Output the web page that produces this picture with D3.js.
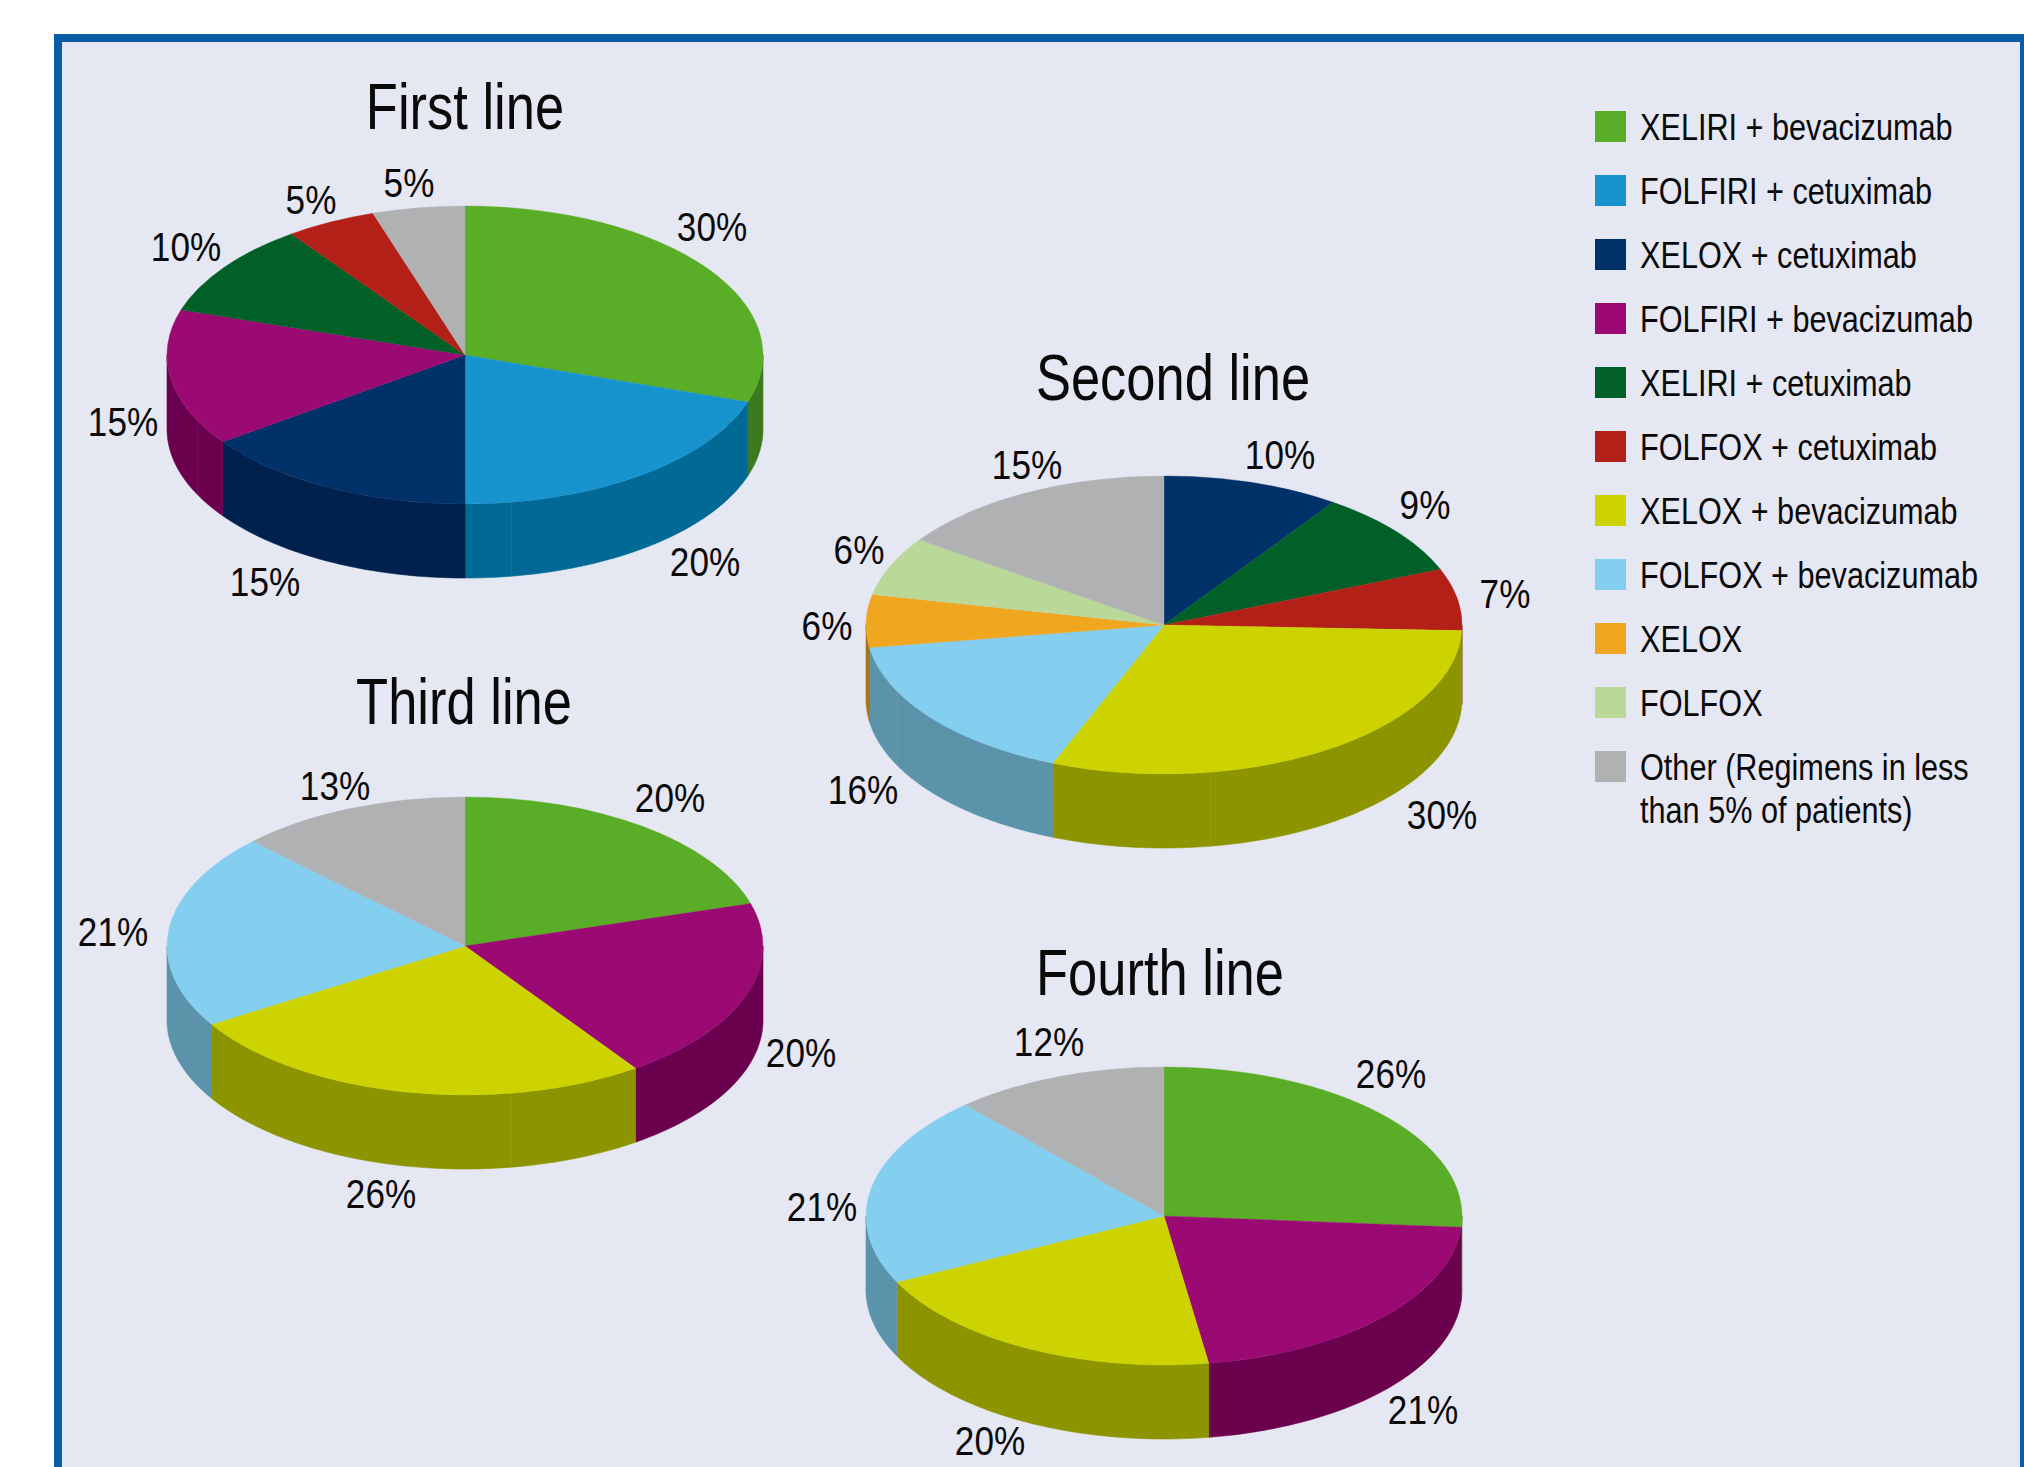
<!DOCTYPE html>
<html><head><meta charset="utf-8">
<style>
html,body{margin:0;padding:0;background:#fff}
svg{display:block}
text{font-family:"Liberation Sans",Arial,sans-serif;fill:#0a0a0a}
</style>
<script src="https://cdn.jsdelivr.net/npm/d3@7/dist/d3.min.js"></script>
</head><body><div id="chart"></div>
<script>
// ---- data (slice shares estimated from the slice edges; labels are the rounded shares) ----
const regimens = ["XELIRI + bevacizumab","FOLFIRI + cetuximab","XELOX + cetuximab","FOLFIRI + bevacizumab","XELIRI + cetuximab","FOLFOX + cetuximab","XELOX + bevacizumab","FOLFOX + bevacizumab","XELOX","FOLFOX","Other (Regimens in less|than 5% of patients)"];
const pieTitles = ["First line","Second line","Third line","Fourth line"];
const firstRegimens  = [0,1,2,3,4,5,10];
const firstValues    = [30.1,19.9,15.1,14.8,10.2,4.9,5.0];
const secondRegimens = [2,4,5,6,7,8,9,10];
const secondValues   = [9.6,9.3,6.7,30.49,16.49,5.7,6.4,15.32];
const thirdRegimens  = [0,3,6,7,10];
const thirdValues    = [20.4,19.9,25.9,21.2,12.6];
const fourthRegimens = [0,3,6,7,10];
const fourthValues   = [26.2,21.4,20.1,20.7,11.6];

// ---- colours ----
const topColours  = ["#5aad26","#1793ce","#003169","#9b0a73","#016028","#b32017","#cdd300","#84cef0","#f0a71f","#bad898","#b0b1b3"];
const wallColours = ["#3d7a1e","#006995","#00204d","#6b004e","#014019","#7a150f","#8c9400","#5a93aa","#a5751a","#809670","#7a7b7d"];

// ---- layout ----
const W=2024,H=1467, RX=298, RY=149, DEPTH=74;
const centres=[[465,355],[1164,625],[465,946],[1164,1216]];
const titleAnchors=[[465,129],[1173,400],[464,724],[1160,995]];
// label centres, as offsets from each pie's centre (hand placed in the source)
const labelOffsets=[
 [[247,-128],[240,207],[-200,227],[-342,67],[-279,-108],[-154,-155],[-56,-172]],
 [[116,-170],[261,-120],[341,-31],[278,190],[-301,165],[-337,1],[-305,-75],[-137,-160]],
 [[205,-148],[336,107],[-84,248],[-352,-14],[-130,-160]],
 [[227,-142],[259,194],[-174,225],[-342,-9],[-115,-174]]
];
const seamAngles=[171,243.6];
const SQUEEZE_LABEL=0.857, SQUEEZE_TITLE=0.82, SQUEEZE_LEGEND=0.84;

const svg=d3.select("#chart").append("svg").attr("width",W).attr("height",H);
svg.append("rect").attr("width",W).attr("height",H).attr("fill","#fff");
// frame: open at the bottom
svg.append("rect").attr("x",58).attr("y",38).attr("width",W-58-4+40).attr("height",H)
  .attr("fill","#e5e7f3").attr("stroke","#0a5ca6").attr("stroke-width",8);
svg.append("rect").attr("x",2020).attr("y",34).attr("width",4).attr("height",H).attr("fill","#0a5ca6");

const pies=[[firstRegimens,firstValues],[secondRegimens,secondValues],[thirdRegimens,thirdValues],[fourthRegimens,fourthValues]];
const pieGen=d3.pie().sort(null);

pies.forEach(([regs,vals],p)=>{
  const [cx,cy]=centres[p];
  const x=d3.scaleLinear().domain([-1,1]).range([cx-RX,cx+RX]);
  const y=d3.scaleLinear().domain([-1,1]).range([cy-RY,cy+RY]);
  const g=svg.append("g").attr("class","pie");
  const arcs=pieGen(vals);
  const wallG=g.append("g"), topG=g.append("g").attr("transform",`translate(${cx},${cy}) scale(1,${RY/RX})`);
  const line=d3.line().x(d=>x(Math.sin(d[0]))).y(d=>y(-Math.cos(d[0]))+d[1]);

  // side walls: only the front half of the rim shows
  arcs.forEach((a,i)=>{
    const a0=Math.max(a.startAngle,Math.PI/2), a1=Math.min(a.endAngle,Math.PI*1.5);
    if(a1<=a0) return;
    const ts=d3.range(0,49).map(k=>a0+(a1-a0)*k/48);
    const pts=ts.map(t=>[t,0]).concat(ts.slice().reverse().map(t=>[t,DEPTH]));
    wallG.append("path").attr("d",line(pts)+"Z").attr("fill",wallColours[regs[i]])
      .attr("stroke",wallColours[regs[i]]).attr("stroke-width",0.6);
  });
  // faint seams on the wall
  seamAngles.forEach(deg=>{
    const t=deg*Math.PI/180;
    wallG.append("path").attr("d",line([[t,0],[t,DEPTH]])).attr("stroke","#fff").attr("stroke-opacity",0.07).attr("stroke-width",1).attr("fill","none");
  });
  // top face
  const arc=d3.arc().innerRadius(0).outerRadius(RX);
  topG.selectAll("path").data(arcs).join("path").attr("d",arc)
    .attr("fill",(d,i)=>topColours[regs[i]]).attr("stroke",(d,i)=>topColours[regs[i]]).attr("stroke-width",0.5);

  // labels
  g.selectAll("text.lab").data(vals).join("text").attr("class","lab")
    .attr("transform",(d,i)=>`translate(${cx+labelOffsets[p][i][0]},${cy+labelOffsets[p][i][1]+14}) scale(${SQUEEZE_LABEL},1)`)
    .attr("text-anchor","middle").attr("font-size",41).text(d=>Math.round(d)+"%");
  // title
  svg.append("text").attr("class","title")
    .attr("transform",`translate(${titleAnchors[p][0]},${titleAnchors[p][1]}) scale(${SQUEEZE_TITLE},1)`)
    .attr("text-anchor","middle").attr("font-size",64).text(pieTitles[p]);
});

// legend
const legX=1595, legY=111, legStep=64, sw=31;
const leg=svg.append("g").attr("class","legend");
regimens.forEach((r,i)=>{
  leg.append("rect").attr("x",legX).attr("y",legY+i*legStep).attr("width",sw).attr("height",sw).attr("fill",topColours[i]);
  r.split("|").forEach((ln,k)=>{
    leg.append("text").attr("transform",`translate(${legX+45},${legY+29+i*legStep+k*43}) scale(${SQUEEZE_LEGEND},1)`)
      .attr("font-size",36.5).text(ln);
  });
});
</script></body></html>
